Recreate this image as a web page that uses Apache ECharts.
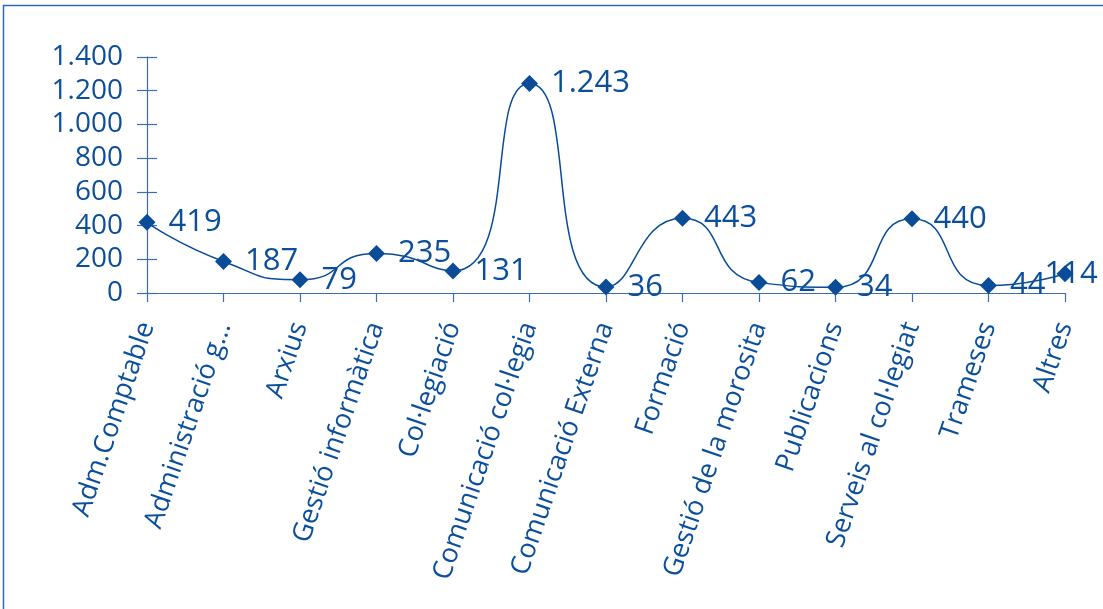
<!DOCTYPE html>
<html>
<head>
<meta charset="utf-8">
<script src="https://cdn.jsdelivr.net/npm/echarts@6/dist/echarts.min.js"></script>
<style>
html,body{margin:0;padding:0;background:#fff;}
#c{width:1103px;height:609px;}
</style>
</head>
<body>
<div id="c"></div>
<script>
var categories = ["Adm.Comptable","Administració g...","Arxius","Gestió informàtica","Col·legiació","Comunicació col·legia","Comunicació Externa","Formació","Gestió de la morosita","Publicacions","Serveis al col·legiat","Trameses","Altres"];
var values = [419,187,79,235,131,1243,36,443,62,34,440,44,114];
var yTicks = [0,200,400,600,800,1000,1200,1400];

var textColor = '#0B4F9C';
var lineColor = '#0A4C98';
var axisColor = '#3A6DB3';
var font = 'Open Sans';

function fmt(v){ return String(v).replace(/\B(?=(\d{3})+(?!\d))/g,'.'); }

var seriesData = values.map(function(v,i){
  if (i === values.length-1) return {value:v,label:{offset:[-42,0]}};
  return v;
});

var chart = echarts.init(document.getElementById('c'));
chart.setOption({
  animation:false,
  backgroundColor:'#fff',
  graphic:[{type:'rect',shape:{x:3.5,y:5.5,width:1300,height:800},style:{fill:'none',stroke:'#2E6AB6',lineWidth:1.5},silent:true}],
  grid:{left:147,right:38,top:57,bottom:316},
  xAxis:{
    type:'category',data:categories,boundaryGap:false,
    axisLine:{lineStyle:{color:axisColor,width:1.2}},
    axisTick:{show:true,length:9,lineStyle:{color:axisColor,width:1.2},alignWithLabel:true},
    axisLabel:{rotate:71,interval:0,margin:30,color:textColor,fontFamily:font,fontSize:27}
  },
  yAxis:[{
    type:'value',min:0,max:yTicks[yTicks.length-1],interval:200,
    axisLine:{show:true,lineStyle:{color:axisColor,width:1.2}},
    axisTick:{show:true,length:10,lineStyle:{color:axisColor,width:1.2}},
    splitLine:{show:false},
    axisLabel:{margin:24,color:textColor,fontFamily:font,fontSize:28,formatter:function(v){return fmt(v);}}
  },{
    type:'value',position:'left',min:0,max:yTicks[yTicks.length-1],interval:200,
    axisLine:{show:false},
    axisTick:{show:true,inside:true,length:10,lineStyle:{color:axisColor,width:1.2}},
    splitLine:{show:false},axisLabel:{show:false}
  }],
  series:[{
    type:'line',data:seriesData,smooth:0.6,
    symbol:'diamond',symbolSize:17,
    lineStyle:{color:lineColor,width:1.5},
    itemStyle:{color:lineColor},
    label:{show:true,position:'right',distance:13,color:textColor,fontFamily:font,fontSize:31,formatter:function(p){return fmt(p.value);}}
  }]
});
</script>
</body>
</html>
